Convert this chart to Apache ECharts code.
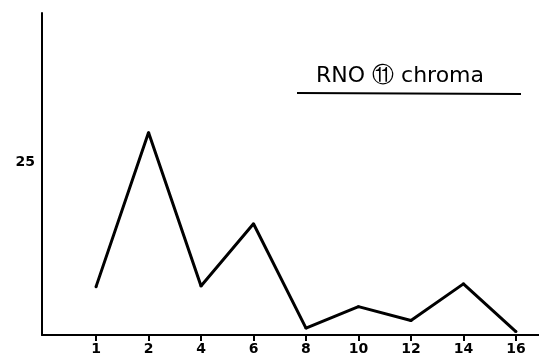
<!DOCTYPE html>
<html>
<head>
<meta charset="utf-8">
<script src="https://cdn.jsdelivr.net/npm/echarts@6/dist/echarts.min.js"></script>
<style>
  html, body { margin: 0; padding: 0; background: #fff; }
  #chart { width: 539px; height: 360px; }
</style>
</head>
<body>
<div id="chart"></div>
<script>
// x tick labels (unevenly numbered, evenly spaced)
var categories = ['1', '2', '4', '6', '8', '10', '12', '14', '16'];
// chroma values
var chroma = [7.0, 29.3, 7.1, 16.1, 1.0, 4.1, 2.1, 7.4, 0.5];
var yTicks = [25];

var points = chroma.map(function (v, i) { return [i, v]; });
var idx = categories.map(function (c, i) { return i; });

var myChart = echarts.init(document.getElementById('chart'));
myChart.setOption({
  animation: false,
  backgroundColor: '#fff',
  title: {
    text: 'RNO ⑪ chroma',
    left: 311,
    top: 60,
    textStyle: {
      fontFamily: 'DejaVu Sans',
      fontWeight: 'normal',
      fontSize: 22,
      color: '#000'
    }
  },
  // underline under the title
  graphic: [{
    type: 'line',
    shape: { x1: 297, y1: 93, x2: 521, y2: 94 },
    style: { stroke: '#000', lineWidth: 2 }
  }],
  grid: { left: 42, right: 0, top: 13, bottom: 25 },
  xAxis: {
    type: 'value',
    min: -1.03,
    max: 8.44,
    splitLine: { show: false },
    axisLine: { lineStyle: { color: '#000', width: 2 } },
    axisTick: { customValues: idx, length: 6, lineStyle: { color: '#000', width: 2 } },
    axisLabel: {
      customValues: idx,
      margin: 7,
      color: '#000',
      fontFamily: 'DejaVu Sans',
      fontWeight: 'bold',
      fontSize: 14,
      formatter: function (v) { return categories[Math.round(v)]; }
    }
  },
  yAxis: {
    type: 'value',
    min: 0,
    max: 46.6,
    splitLine: { show: false },
    axisLine: { show: true, onZero: false, lineStyle: { color: '#000', width: 2 } },
    axisTick: { show: false },
    axisLabel: {
      customValues: yTicks,
      margin: 7,
      color: '#000',
      fontFamily: 'DejaVu Sans',
      fontWeight: 'bold',
      fontSize: 14
    }
  },
  series: [{
    type: 'line',
    data: points,
    symbol: 'circle',
    symbolSize: 3,
    itemStyle: { color: '#000' },
    lineStyle: { color: '#000', width: 3 }
  }]
});
</script>
</body>
</html>
